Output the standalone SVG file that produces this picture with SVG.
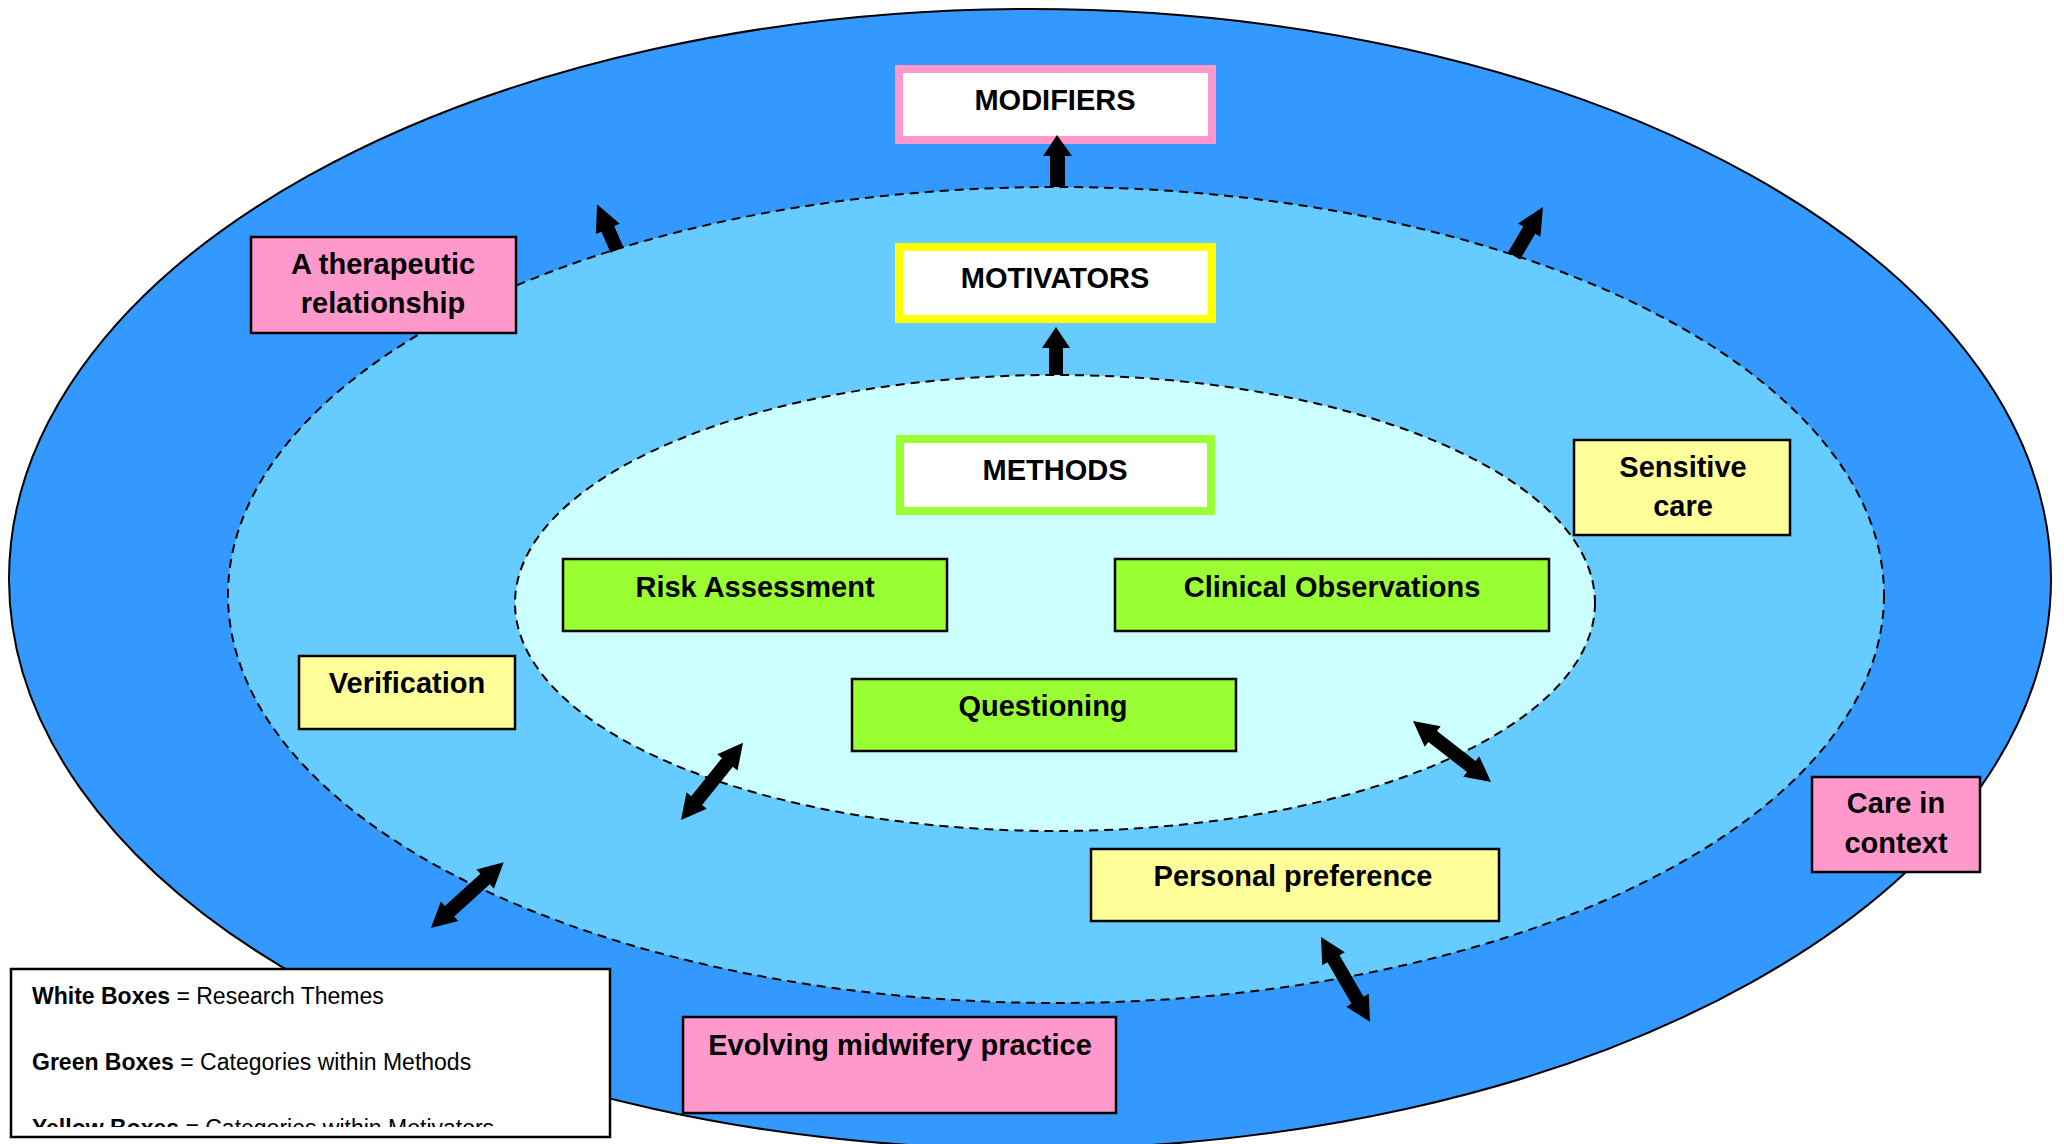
<svg xmlns="http://www.w3.org/2000/svg" width="2064" height="1144" viewBox="0 0 2064 1144">
<style>
.lbl{font-family:"Liberation Sans",Arial,sans-serif;font-weight:bold;font-size:29px;fill:#000;text-anchor:middle}
.leg{font-family:"Liberation Sans",Arial,sans-serif;font-size:23px;fill:#000}
.legb{font-weight:bold}
.theme{fill:#fff;stroke-width:8}
.green{fill:#99FF33;stroke:#000;stroke-width:2.5}
.yellow{fill:#FFFF99;stroke:#000;stroke-width:2.5}
.pink{fill:#FF99CC;stroke:#000;stroke-width:2.5}
.ring{stroke:#000;stroke-width:2;stroke-dasharray:9 6}
.arw{fill:#000}
</style>
<defs>
<clipPath id="legclip"><rect x="12" y="971" width="597" height="156"/></clipPath>
</defs>
<rect x="0" y="0" width="2064" height="1144" fill="#fff"/>
<g id="rings">
<ellipse id="outer-ring" cx="1030" cy="579" rx="1021" ry="570" fill="#3399FF" stroke="#000" stroke-width="2"/>
<ellipse id="middle-ring" class="ring" cx="1056" cy="595" rx="828" ry="408" fill="#66CCFF"/>
<ellipse id="inner-ring" class="ring" cx="1055" cy="603" rx="540" ry="228" fill="#CCFFFF"/>
</g>
<g id="nodes">
<g id="modifiers"><rect class="theme" x="899" y="69" width="313" height="71" stroke="#FF99CC"/><text class="lbl" x="1055" y="110">MODIFIERS</text></g>
<g id="motivators"><rect class="theme" x="899" y="247" width="313" height="72" stroke="#FFFF00"/><text class="lbl" x="1055" y="288">MOTIVATORS</text></g>
<g id="methods"><rect class="theme" x="900" y="439" width="311" height="72" stroke="#99FF33"/><text class="lbl" x="1055" y="480">METHODS</text></g>
<g id="risk-assessment"><rect class="green" x="563" y="559" width="384" height="72"/><text class="lbl" x="755" y="597">Risk Assessment</text></g>
<g id="clinical-observations"><rect class="green" x="1115" y="559" width="434" height="72"/><text class="lbl" x="1332" y="597">Clinical Observations</text></g>
<g id="questioning"><rect class="green" x="852" y="679" width="384" height="72"/><text class="lbl" x="1043" y="716">Questioning</text></g>
<g id="sensitive-care"><rect class="yellow" x="1574" y="440" width="216" height="95"/><text class="lbl" x="1683" y="477">Sensitive</text><text class="lbl" x="1683" y="516">care</text></g>
<g id="verification"><rect class="yellow" x="299" y="656" width="216" height="73"/><text class="lbl" x="407" y="693">Verification</text></g>
<g id="personal-preference"><rect class="yellow" x="1091" y="849" width="408" height="72"/><text class="lbl" x="1293" y="886">Personal preference</text></g>
<g id="therapeutic-relationship"><rect class="pink" x="251" y="237" width="265" height="96"/><text class="lbl" x="383" y="274">A therapeutic</text><text class="lbl" x="383" y="313">relationship</text></g>
<g id="care-in-context"><rect class="pink" x="1812" y="777" width="168" height="95"/><text class="lbl" x="1896" y="813">Care in</text><text class="lbl" x="1896" y="853">context</text></g>
<g id="evolving-midwifery-practice"><rect class="pink" x="683" y="1017" width="433" height="96"/><text class="lbl" x="900" y="1055">Evolving midwifery practice</text></g>
<g id="legend"><rect x="11" y="969" width="599" height="168" fill="#fff" stroke="#000" stroke-width="2.5"/>
<g clip-path="url(#legclip)">
<text class="leg" x="32" y="1004"><tspan class="legb">White Boxes</tspan> = Research Themes</text>
<text class="leg" x="32" y="1070"><tspan class="legb">Green Boxes</tspan> = Categories within Methods</text>
<text class="leg" x="32" y="1136"><tspan class="legb">Yellow Boxes</tspan> = Categories within Motivators</text>
</g></g>
</g>
<g id="connectors">
<polygon class="arw" points="1050,187 1050,156 1043,156 1057,135 1072,156 1065,156 1065,187"/>
<polygon class="arw" points="1049,375 1049,348 1042,348 1056,327 1070,348 1063,348 1063,375"/>
<polygon class="arw" transform="translate(617,250) rotate(-113.5)" points="0,-7 23,-7 23,-13 50,0 23,13 23,7 0,7"/>
<polygon class="arw" transform="translate(1514,256) rotate(-59.4)" points="0,-7 30,-7 30,-13 57,0 30,13 30,7 0,7"/>
<polygon class="arw" transform="translate(681,820) rotate(-51.2)" points="0,0 25,-13 25,-7 74,-7 74,-13 99,0 74,13 74,7 25,7 25,13"/>
<polygon class="arw" transform="translate(1413,721) rotate(38)" points="0,0 25,-13 25,-7 74,-7 74,-13 99,0 74,13 74,7 25,7 25,13"/>
<polygon class="arw" transform="translate(431,928) rotate(-42.1)" points="0,0 25,-13 25,-7 73,-7 73,-13 98,0 73,13 73,7 25,7 25,13"/>
<polygon class="arw" transform="translate(1321,937) rotate(60)" points="0,0 25,-13 25,-7 73,-7 73,-13 98,0 73,13 73,7 25,7 25,13"/>
</g>
</svg>
